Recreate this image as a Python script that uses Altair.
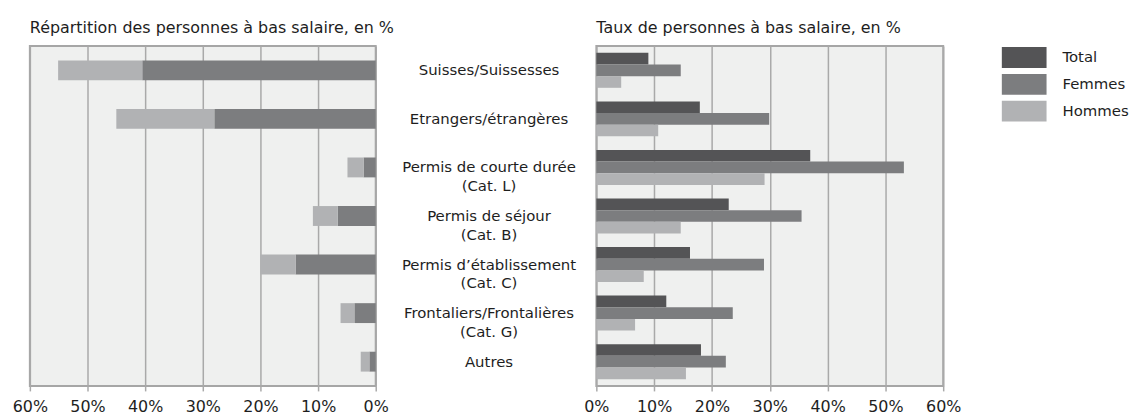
import altair as alt
import pandas as pd

categories = [
    "Suisses/Suissesses",
    "Etrangers/étrangères",
    "Permis de courte durée\n(Cat. L)",
    "Permis de séjour\n(Cat. B)",
    "Permis d’établissement\n(Cat. C)",
    "Frontaliers/Frontalières\n(Cat. G)",
    "Autres",
]
series = ["Total", "Femmes", "Hommes"]
colors = ["#545456", "#7c7d7f", "#b1b2b4"]

# Left panel: distribution of low-wage persons (stacked), %
rep_femmes = [40.5, 28.0, 2.1, 6.6, 13.9, 3.7, 1.1]
rep_hommes = [14.6, 17.0, 2.8, 4.3, 6.1, 2.4, 1.5]

# Right panel: share of low-wage persons, %
taux_total = [9.0, 17.9, 37.0, 22.9, 16.2, 12.1, 18.1]
taux_femmes = [14.6, 29.9, 53.2, 35.5, 29.0, 23.6, 22.4]
taux_hommes = [4.3, 10.7, 29.1, 14.6, 8.2, 6.7, 15.5]

tick_values = [0, 10, 20, 30, 40, 50, 60]

rows_left = []
for c, f, h in zip(categories, rep_femmes, rep_hommes):
    rows_left.append({"cat": c, "series": "Femmes", "value": f, "ord": 1})
    rows_left.append({"cat": c, "series": "Hommes", "value": h, "ord": 2})
df_left = pd.DataFrame(rows_left)

rows_right = []
for c, t, f, h in zip(categories, taux_total, taux_femmes, taux_hommes):
    rows_right.append({"cat": c, "series": "Total", "value": t})
    rows_right.append({"cat": c, "series": "Femmes", "value": f})
    rows_right.append({"cat": c, "series": "Hommes", "value": h})
df_right = pd.DataFrame(rows_right)
df_labels = pd.DataFrame({"cat": categories})

FONT = "DejaVu Sans"
TXT = "#1e1e1e"
GRID = "#a9a9a9"

def x_axis():
    return alt.Axis(values=tick_values, labelExpr="datum.value + '%'", title=None,
                    grid=True, gridColor=GRID, gridWidth=1.5, domain=False,
                    ticks=True, tickColor=GRID, tickSize=5, tickWidth=1.5,
                    labelFontSize=16, labelColor=TXT, labelPadding=8, labelFlush=False)

def title(text):
    return alt.TitleParams(text, anchor="start", frame="group", fontSize=16,
                           fontWeight="normal", color=TXT, offset=10)

color_scale = alt.Scale(domain=series, range=colors)

left = alt.Chart(df_left).mark_bar(size=20).encode(
    x=alt.X("value:Q", stack="zero",
            scale=alt.Scale(domain=[0, 60], reverse=True, nice=False), axis=x_axis()),
    y=alt.Y("cat:N", sort=categories, axis=None),
    color=alt.Color("series:N", scale=color_scale, legend=None),
    order=alt.Order("ord:Q"),
).properties(width=348, height=342,
             title=title("Répartition des personnes à bas salaire, en %"))

yscale = alt.Scale(paddingInner=0.28, paddingOuter=0.14)
bars = alt.Chart(df_right).mark_bar().encode(
    x=alt.X("value:Q", scale=alt.Scale(domain=[0, 60], nice=False), axis=x_axis()),
    y=alt.Y("cat:N", sort=categories, axis=None, scale=yscale),
    yOffset=alt.YOffset("series:N", sort=series, scale=alt.Scale(paddingInner=0, paddingOuter=0)),
    color=alt.Color("series:N", scale=color_scale,
                    legend=alt.Legend(title=None, orient="none", legendX=419, legendY=0,
                                      symbolType="M-2,-0.933H2V0.933H-2Z", symbolSize=506.25,
                                      symbolStrokeWidth=0, symbolOpacity=1,
                                      labelFontSize=15, labelColor=TXT, labelOffset=27,
                                      rowPadding=5, padding=0)),
)
labels = alt.Chart(df_labels).mark_text(
    lineBreak="\n", align="center", baseline="middle", fontSize=15, lineHeight=19, color=TXT
).encode(
    y=alt.Y("cat:N", sort=categories, axis=None),
    x=alt.value(-108),
    text="cat:N",
)
right = alt.layer(bars, labels).properties(
    width=349, height=342, title=title("Taux de personnes à bas salaire, en %"))

chart = alt.hconcat(left, right, spacing=222, bounds="flush").resolve_scale(
    color="independent"
).properties(
    padding={"left": 3, "top": 10, "right": 5, "bottom": 5}
).configure(font=FONT).configure_view(
    stroke="#a6a6a6", strokeWidth=2, fill="#eff0ef"
)

chart.save("out.html", embed_options={"renderer": "svg", "actions": False})
